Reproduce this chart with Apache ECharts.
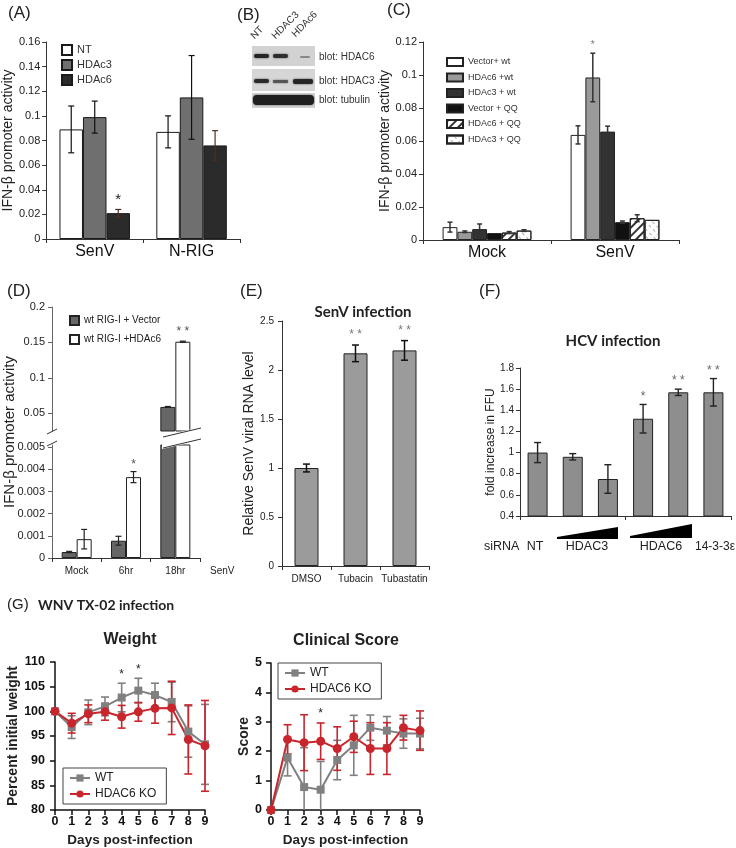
<!DOCTYPE html>
<html><head><meta charset="utf-8">
<script src="https://cdn.jsdelivr.net/npm/echarts@6/dist/echarts.min.js"></script>
<style>html,body{margin:0;padding:0;background:#fff}#c{width:736px;height:848px}</style>
</head><body><div id="c"></div><script>
// ---------------- DATA ----------------
// (A)
const aCats = ['SenV', 'N-RIG'];
const aNames = ['NT', 'HDAc3', 'HDAc6'];
const aVals = [[0.089, 0.087], [0.099, 0.115], [0.021, 0.076]];
const aErr  = [[0.019, 0.013], [0.013, 0.034], [0.003, 0.012]];
const aStars = [['', ''], ['', ''], ['*', '']];
const aTicks = [0, 0.16, 0.02];
// (C)
const cCats = ['Mock', 'SenV'];
const cNames = ['Vector+ wt', 'HDAc6 +wt', 'HDAc3 + wt', 'Vector + QQ', 'HDAc6 + QQ', 'HDAc3 + QQ'];
const cVals = [[0.0078, 0.0637], [0.0050, 0.0985], [0.0066, 0.0657], [0.0042, 0.0108], [0.0045, 0.0132], [0.0057, 0.0122]];
const cErr  = [[0.0030, 0.0055], [0.0005, 0.0147], [0.0031, 0.0033], [0, 0.0007], [0.0006, 0.0021], [0.0005, 0]];
const cStars = [['', ''], ['', '*'], ['', ''], ['', ''], ['', ''], ['', '']];
const cTicks = [0, 0.12, 0.02];
// (D)
const dCats = ['Mock', '6hr', '18hr'];
const dNames = ['wt RIG-I + Vector', 'wt RIG-I +HDAc6'];
const dVals = [[0.00027, 0.00078, 0.059], [0.00085, 0.00365, 0.151]];
const dErr  = [[0.00003, 0.0002, 0.0006], [0.00044, 0.00025, 0.0008]];
const dStars = [['', '', ''], ['', '*', '* *']];
const dUpperTicks = [0.05, 0.1, 0.15, 0.2];
const dLowerTicks = [0, 0.001, 0.002, 0.003, 0.004, 0.005];
const dBreakLow = 0.0051, dBreakHigh = 0.025, dMax = 0.2;
// (E)
const eCats = ['DMSO', 'Tubacin', 'Tubastatin'];
const eVals = [1.0, 2.17, 2.2];
const eErr  = [0.04, 0.085, 0.1];
const eStars = ['', '* *', '* *'];
const eTicks = [0, 2.5, 0.5];
// (F)
const fCats = ['NT', 'HDAC3 low', 'HDAC3 high', 'HDAC6 low', 'HDAC6 high', '14-3-3ε'];
const fVals = [1.0, 0.96, 0.75, 1.32, 1.57, 1.57];
const fErr  = [0.095, 0.03, 0.135, 0.135, 0.03, 0.13];
const fStars = ['', '', '', '*', '* *', '* *'];
const fTicks = [0.4, 1.8, 0.2];
const fGroupLabels = ['siRNA', 'NT', 'HDAC3', 'HDAC6', '14-3-3ε'];
// (G)
const days = [0, 1, 2, 3, 4, 5, 6, 7, 8, 9];
const gNames = ['WT', 'HDAC6 KO'];
const wtWeight    = [100, 96.8, 99.8, 101.0, 102.8, 104.2, 103.3, 101.9, 95.9, 93.3];
const wtWeightErr = [0, 2.3, 2.5, 1.9, 2.9, 2.5, 2.4, 4.0, 5.2, 8.1];
const koWeight    = [100, 97.6, 99.5, 99.9, 98.9, 99.9, 100.6, 100.7, 94.3, 93.0];
const koWeightErr = [0, 2.0, 1.8, 1.7, 2.3, 1.9, 3.0, 5.4, 7.0, 9.2];
const weightStars = ['', '', '', '', '*', '*', '', '', '', ''];
const wtScore    = [0, 1.78, 0.78, 0.69, 1.70, 2.20, 2.80, 2.70, 2.60, 2.60];
const wtScoreErr = [0, 0.62, 1.34, 0.96, 0.67, 1.02, 0.43, 0.48, 0.50, 0.52];
const koScore    = [0, 2.40, 2.29, 2.34, 2.09, 2.49, 2.09, 2.09, 2.80, 2.70];
const koScoreErr = [0, 0.50, 0.95, 0.62, 0.74, 0.53, 0.88, 0.88, 0.42, 0.67];
const scoreStars = ['', '', '', '*', '', '', '', '', '', ''];
const weightTicks = [80, 110, 5];
const scoreTicks = [0, 5, 1];

// ---------------- HELPERS ----------------
const FONT = 'Liberation Sans';
const TFONT = 'Lato';

function errSeries(o) {
  const stars = o.stars || [];
  return {
    type: 'custom', xAxisIndex: o.ax, yAxisIndex: o.ax, data: o.data, z: o.z || 10, silent: true,
    renderItem: function (params, api) {
      const cs = params.coordSys;
      const x = api.value(0), lo = api.value(1), hi = api.value(2);
      const p1 = api.coord([x, lo]), p2 = api.coord([x, hi]);
      const px = p1[0] + (o.offset || 0);
      const bottom = cs.y + cs.height;
      const yb = Math.min(p1[1], bottom), yt = Math.max(p2[1], cs.y);
      const st = { stroke: o.color, lineWidth: o.lw || 1.2 };
      const cw = (o.capW || 6) / 2;
      const ch = [];
      if (hi > lo) {
        ch.push({ type: 'line', shape: { x1: px, y1: yt, x2: px, y2: yb }, style: st });
        ch.push({ type: 'line', shape: { x1: px - cw, y1: yt, x2: px + cw, y2: yt }, style: st });
        if (p1[1] <= bottom) ch.push({ type: 'line', shape: { x1: px - cw, y1: yb, x2: px + cw, y2: yb }, style: st });
      }
      const s = stars[params.dataIndex];
      if (s) ch.push({ type: 'text', style: { text: s, x: px, y: yt - (o.starGap || 2), align: 'center', verticalAlign: 'bottom',
        textAlign: 'center', textVerticalAlign: 'bottom', fill: o.starColor || '#333', fontSize: o.starSize || 12, fontFamily: FONT } });
      return { type: 'group', children: ch };
    }
  };
}
function txt(x, y, text, opt) {
  opt = opt || {};
  return { type: 'text', x: x, y: y, rotation: opt.rot || 0, z: 50,
    style: { text: text, fontSize: opt.size || 12, fontWeight: opt.weight || 'normal', fontFamily: opt.family || FONT,
      fill: opt.fill || '#222', align: opt.align || 'left', verticalAlign: opt.va || 'middle',
      textAlign: opt.align || 'left', textVerticalAlign: opt.va || 'middle' } };
}
function valAxis(ax, t, extra) {
  return Object.assign({
    type: 'value', gridIndex: ax, min: t[0], max: t[1], interval: t[2],
    axisLine: { show: true, lineStyle: { color: '#333', width: 1 } },
    axisTick: { show: true, length: 4, lineStyle: { color: '#333' } },
    splitLine: { show: false },
    axisLabel: { fontSize: 11, color: '#222', fontFamily: FONT, margin: 6 },
    nameLocation: 'middle', nameTextStyle: { fontSize: 14, color: '#222', fontFamily: FONT }
  }, extra || {});
}
function catAxis(ax, cats, extra) {
  return Object.assign({
    type: 'category', gridIndex: ax, data: cats,
    axisLine: { show: true, lineStyle: { color: '#333', width: 1 } },
    axisTick: { show: true, length: 4, lineStyle: { color: '#333' } },
    axisLabel: { fontSize: 16, color: '#111', fontFamily: FONT, margin: 5, interval: 0 },
    splitLine: { show: false }
  }, extra || {});
}

// ---------------- GRIDS ----------------
const grid = [
  { left: 43, top: 42, width: 197, height: 197 },   // 0 A
  { left: 423, top: 42, width: 256, height: 198 },  // 1 C
  { left: 52, top: 307, width: 148, height: 124 },  // 2 D upper
  { left: 52, top: 445, width: 148, height: 113 },  // 3 D lower
  { left: 282, top: 321, width: 147, height: 245 }, // 4 E
  { left: 520, top: 368, width: 211, height: 148 }, // 5 F
  { left: 55, top: 662, width: 150, height: 150 },  // 6 Weight
  { left: 271, top: 663, width: 149, height: 149 }  // 7 Score
];

const xAxis = [
  catAxis(0, aCats),
  catAxis(1, cCats),
  catAxis(2, dCats, { axisLine: { show: false }, axisTick: { show: false }, axisLabel: { show: false } }),
  catAxis(3, dCats, { axisLabel: { fontSize: 10, color: '#222', fontFamily: FONT, margin: 8, interval: 0 } }),
  catAxis(4, eCats, { axisLabel: { fontSize: 10, color: '#222', fontFamily: FONT, margin: 8, interval: 0 } }),
  catAxis(5, fCats, { axisLabel: { show: false } }),
  { type: 'value', gridIndex: 6, min: 0, max: 9, interval: 1, splitLine: { show: false },
    axisLine: { lineStyle: { color: '#111', width: 1.5 } }, axisTick: { length: 5, lineStyle: { color: '#111', width: 1.5 } },
    axisLabel: { fontSize: 12.5, fontWeight: 'bold', color: '#111', fontFamily: FONT, margin: 5 },
    name: 'Days post-infection', nameLocation: 'middle', nameGap: 23,
    nameTextStyle: { fontSize: 13.5, fontWeight: 'bold', color: '#222', fontFamily: FONT } },
  { type: 'value', gridIndex: 7, min: 0, max: 9, interval: 1, splitLine: { show: false },
    axisLine: { lineStyle: { color: '#111', width: 1.5 } }, axisTick: { length: 5, lineStyle: { color: '#111', width: 1.5 } },
    axisLabel: { fontSize: 12.5, fontWeight: 'bold', color: '#111', fontFamily: FONT, margin: 5 },
    name: 'Days post-infection', nameLocation: 'middle', nameGap: 23,
    nameTextStyle: { fontSize: 13.5, fontWeight: 'bold', color: '#222', fontFamily: FONT } }
];

const gYAxisStyle = {
  axisLine: { show: true, lineStyle: { color: '#111', width: 1.5 } },
  axisTick: { show: true, length: 5, lineStyle: { color: '#111', width: 1.5 } },
  axisLabel: { fontSize: 12.5, fontWeight: 'bold', color: '#111', fontFamily: FONT, margin: 4 },
  nameTextStyle: { fontSize: 14, fontWeight: 'bold', color: '#222', fontFamily: FONT }
};

const yAxis = [
  valAxis(0, aTicks, { name: 'IFN-β promoter activity', nameGap: 28 }),
  valAxis(1, cTicks, { name: 'IFN-β promoter activity', nameGap: 24 }),
  { type: 'value', gridIndex: 2, min: dBreakHigh, max: dMax, splitLine: { show: false },
    axisLine: { show: true, lineStyle: { color: '#666' } },
    axisTick: { show: true, length: 4, customValues: dUpperTicks, lineStyle: { color: '#666' } },
    axisLabel: { fontSize: 11, color: '#222', fontFamily: FONT, margin: 7, customValues: dUpperTicks } },
  { type: 'value', gridIndex: 3, min: 0, max: dBreakLow, splitLine: { show: false },
    axisLine: { show: true, lineStyle: { color: '#666' } },
    axisTick: { show: true, length: 4, customValues: dLowerTicks, lineStyle: { color: '#666' } },
    axisLabel: { fontSize: 11, color: '#222', fontFamily: FONT, margin: 7, customValues: dLowerTicks } },
  valAxis(4, eTicks, { name: 'Relative SenV viral RNA level', nameGap: 26, axisLabel: { fontSize: 10, color: '#222', fontFamily: FONT, margin: 8 } }),
  valAxis(5, fTicks, { name: 'fold increase in FFU', nameGap: 19, nameTextStyle: { fontSize: 12, color: '#222', fontFamily: FONT },
    axisLabel: { fontSize: 10, color: '#222', fontFamily: FONT, margin: 6,
      formatter: v => (Math.round(v * 10) / 10).toString() } }),
  Object.assign({ type: 'value', gridIndex: 6, min: weightTicks[0], max: weightTicks[1], interval: weightTicks[2], offset: 6,
    splitLine: { show: false }, name: 'Percent initial weight', nameLocation: 'middle', nameGap: 24 }, gYAxisStyle),
  Object.assign({ type: 'value', gridIndex: 7, min: scoreTicks[0], max: scoreTicks[1], interval: scoreTicks[2], offset: 5,
    splitLine: { show: false }, name: 'Score', nameLocation: 'middle', nameGap: 15 }, gYAxisStyle)
];

// ---------------- SERIES ----------------
const series = [];
// A
const aColors = ['#ffffff', '#6f6f6f', '#2b2b2b'];
const aBW = 23.5;
aNames.forEach((n, i) => {
  series.push({ type: 'bar', name: n, xAxisIndex: 0, yAxisIndex: 0, data: aVals[i], barWidth: aBW, barGap: '0%',
    itemStyle: { color: aColors[i], borderColor: '#1a1a1a', borderWidth: 1 } });
});
aNames.forEach((n, i) => {
  series.push(errSeries({ ax: 0, data: aVals[i].map((v, k) => [k, v - aErr[i][k], v + aErr[i][k]]), stars: aStars[i],
    offset: (i - 1) * aBW, capW: 6, color: i === 2 ? '#4a3020' : '#111', lw: 1.2, starSize: 15, starColor: '#222', starGap: 0 }));
});
// C
const cColors = ['#ffffff', '#9a9a9a', '#333333', '#111111', '#ffffff', '#ffffff'];
const cDecals = [null, null, null, null,
  { symbol: 'rect', symbolSize: 1, dashArrayX: [1, 0], dashArrayY: [1.3, 4], rotation: -Math.PI / 4, color: '#333' },
  { symbol: 'rect', symbolSize: 1, dashArrayX: [3, 3], dashArrayY: [1, 4], rotation: Math.PI / 4, color: '#aaa' }];
const cBW = 14.8;
cNames.forEach((n, i) => {
  const st = { color: cColors[i], borderColor: '#222', borderWidth: 1 };
  if (cDecals[i]) st.decal = cDecals[i];
  series.push({ type: 'bar', name: n, xAxisIndex: 1, yAxisIndex: 1, data: cVals[i], barWidth: cBW, barGap: '0%', itemStyle: st });
});
cNames.forEach((n, i) => {
  series.push(errSeries({ ax: 1, data: cVals[i].map((v, k) => [k, v - cErr[i][k], v + cErr[i][k]]), stars: cStars[i],
    offset: (i - 2.5) * cBW, capW: 5, color: '#333', lw: 1.5, starSize: 10, starColor: '#777', starGap: 3 }));
});
// D
const dColors = ['#666666', '#ffffff'];
const dBW = 15;
dNames.forEach((n, i) => {
  series.push({ type: 'bar', name: n, xAxisIndex: 3, yAxisIndex: 3, data: dVals[i], barWidth: dBW, barGap: '0%',
    itemStyle: { color: dColors[i], borderColor: '#222', borderWidth: 1 } });
  series.push({ type: 'bar', name: n, xAxisIndex: 2, yAxisIndex: 2, data: dVals[i].map(v => v > dBreakHigh ? v : '-'),
    barWidth: dBW, barGap: '0%', itemStyle: { color: dColors[i], borderColor: '#222', borderWidth: 1 } });
});
dNames.forEach((n, i) => {
  const lowD = [], lowS = [], upD = [], upS = [];
  dVals[i].forEach((v, k) => {
    if (v < dBreakLow) { lowD.push([k, v - dErr[i][k], v + dErr[i][k]]); lowS.push(dStars[i][k]); }
    else { upD.push([k, v - dErr[i][k], v + dErr[i][k]]); upS.push(dStars[i][k]); }
  });
  const off = (i - 0.5) * dBW;
  series.push(errSeries({ ax: 3, data: lowD, stars: lowS, offset: off, capW: 6, color: '#222', lw: 1.2, starSize: 12, starColor: '#555', starGap: 1 }));
  series.push(errSeries({ ax: 2, data: upD, stars: upS, offset: off, capW: 6, color: '#222', lw: 1.2, starSize: 12, starColor: '#555', starGap: 3 }));
});
// E
series.push({ type: 'bar', name: 'SenV infection', xAxisIndex: 4, yAxisIndex: 4, data: eVals, barWidth: 24,
  itemStyle: { color: '#9b9b9b', borderColor: '#222', borderWidth: 1 } });
series.push(errSeries({ ax: 4, data: eVals.map((v, k) => [k, v - eErr[k], v + eErr[k]]), stars: eStars,
  capW: 7, color: '#111', lw: 1.5, starSize: 12, starColor: '#777', starGap: 4 }));
// F
series.push({ type: 'bar', name: 'HCV infection', xAxisIndex: 5, yAxisIndex: 5, data: fVals, barWidth: 20,
  itemStyle: { color: '#8e8e8e', borderColor: '#222', borderWidth: 1 } });
series.push(errSeries({ ax: 5, data: fVals.map((v, k) => [k, v - fErr[k], v + fErr[k]]), stars: fStars,
  capW: 7, color: '#222', lw: 1.4, starSize: 12, starColor: '#666', starGap: 2 }));
// G
const gColors = ['#808080', '#c8262c'];
function gLine(ax, name, vals, ci, sym, size) {
  return { type: 'line', name: name, xAxisIndex: ax, yAxisIndex: ax, data: days.map((d, k) => [d, vals[k]]),
    symbol: sym, symbolSize: size, z: 12, lineStyle: { color: gColors[ci], width: 2 }, itemStyle: { color: gColors[ci] } };
}
function gErr(ax, vals, errs, ci, stars) {
  return errSeries({ ax: ax, data: days.map((d, k) => [d, vals[k] - errs[k], vals[k] + errs[k]]), stars: stars || [],
    capW: 8, color: gColors[ci], lw: 1.6, starSize: 12, starColor: '#222', starGap: 3, z: 11 });
}
series.push(gErr(6, wtWeight, wtWeightErr, 0, weightStars));
series.push(gErr(6, koWeight, koWeightErr, 1));
series.push(gLine(6, gNames[0], wtWeight, 0, 'rect', 8));
series.push(gLine(6, gNames[1], koWeight, 1, 'circle', 9));
series.push(gErr(7, wtScore, wtScoreErr, 0));
series.push(gErr(7, koScore, koScoreErr, 1, scoreStars));
series.push(gLine(7, gNames[0], wtScore, 0, 'rect', 8));
series.push(gLine(7, gNames[1], koScore, 1, 'circle', 9));

// ---------------- LEGENDS ----------------
const legend = [
  { data: aNames, left: 56, top: 39, orient: 'vertical', icon: 'rect', itemWidth: 10, itemHeight: 10, itemGap: 3, selectedMode: false,
    textStyle: { fontSize: 11, color: '#333', fontFamily: FONT } },
  { data: cNames, left: 441, top: 52, orient: 'vertical', icon: 'rect', itemWidth: 16, itemHeight: 8, itemGap: 5.5, selectedMode: false,
    textStyle: { fontSize: 9, color: '#333', fontFamily: FONT } },
  { data: dNames, left: 64, top: 310, orient: 'vertical', icon: 'rect', itemWidth: 9, itemHeight: 9, itemGap: 8, selectedMode: false,
    textStyle: { fontSize: 10, color: '#222', fontFamily: FONT } },
  { data: gNames, left: 63, top: 768, orient: 'vertical', itemWidth: 20, itemHeight: 9, itemGap: 4, selectedMode: false,
    borderColor: '#444', borderWidth: 1, borderRadius: 0, padding: [4, 10, 4, 6],
    textStyle: { fontSize: 12, color: '#222', fontFamily: FONT } },
  { data: gNames, left: 278, top: 663, orient: 'vertical', itemWidth: 20, itemHeight: 9, itemGap: 4, selectedMode: false,
    borderColor: '#444', borderWidth: 1, borderRadius: 0, padding: [4, 10, 4, 6],
    textStyle: { fontSize: 12, color: '#222', fontFamily: FONT } }
];

// ---------------- GRAPHIC (panel labels, blot, wedges, break marks) ----------------
const graphic = [
  txt(8, 13, '(A)', { size: 17 }),
  txt(237, 15, '(B)', { size: 17 }),
  txt(387, 10, '(C)', { size: 17 }),
  txt(7, 291, '(D)', { size: 17 }),
  txt(240, 291, '(E)', { size: 17 }),
  txt(479, 291, '(F)', { size: 17 }),
  txt(7, 605, '(G)', { size: 15 }),
  txt(38, 605, 'WNV TX-02 infection', { size: 14, weight: 'bold', family: TFONT }),
  txt(363, 312, 'SenV infection', { size: 15, weight: 'bold', family: TFONT, align: 'center' }),
  txt(613, 341, 'HCV infection', { size: 15, weight: 'bold', family: TFONT, align: 'center' }),
  txt(130, 640, 'Weight', { size: 16, weight: 'bold', align: 'center' }),
  txt(346, 641, 'Clinical Score', { size: 16, weight: 'bold', align: 'center' }),
  txt(10, 432, 'IFN-β promoter activity', { size: 15, align: 'center', rot: Math.PI / 2 }),
  txt(210, 571, 'SenV', { size: 10 }),
  // F group labels
  txt(484, 547, fGroupLabels[0], { size: 12.5 }),
  txt(535, 547, fGroupLabels[1], { size: 12.5, align: 'center' }),
  txt(587, 547, fGroupLabels[2], { size: 12.5, align: 'center' }),
  txt(661, 547, fGroupLabels[3], { size: 12.5, align: 'center' }),
  txt(735, 547, fGroupLabels[4], { size: 12, align: 'right' }),
  { type: 'polygon', shape: { points: [[557, 537], [618, 527], [618, 539], [557, 539]] }, style: { fill: '#000' } },
  { type: 'polygon', shape: { points: [[630, 536], [692, 524], [692, 538], [630, 538]] }, style: { fill: '#000' } },
  // D break marks
  { type: 'polygon', z: 40, shape: { points: [[162, 436], [202, 427], [202, 440], [162, 449]] }, style: { fill: '#fff' } },
  { type: 'line', z: 41, shape: { x1: 163, y1: 437, x2: 201, y2: 428 }, style: { stroke: '#333', lineWidth: 1 } },
  { type: 'line', z: 41, shape: { x1: 163, y1: 448, x2: 201, y2: 439 }, style: { stroke: '#333', lineWidth: 1 } },
  { type: 'line', z: 41, shape: { x1: 47, y1: 434, x2: 57, y2: 429 }, style: { stroke: '#333', lineWidth: 1 } },
  { type: 'line', z: 41, shape: { x1: 47, y1: 446, x2: 57, y2: 441 }, style: { stroke: '#333', lineWidth: 1 } },
  // (B) western blot
  { type: 'rect', shape: { x: 252, y: 46, width: 63, height: 20 }, style: { fill: '#d2d2d2' } },
  { type: 'rect', shape: { x: 252, y: 69, width: 63, height: 22 }, style: { fill: '#d6d6d6' } },
  { type: 'rect', shape: { x: 252, y: 93, width: 63, height: 15 }, style: { fill: '#d4d4d4' } },
  { type: 'rect', shape: { x: 254, y: 54, width: 15, height: 4, r: 2 }, style: { fill: '#262626', shadowBlur: 2, shadowColor: '#444' } },
  { type: 'rect', shape: { x: 273, y: 54, width: 15, height: 4, r: 2 }, style: { fill: '#2e2e2e', shadowBlur: 2, shadowColor: '#444' } },
  { type: 'rect', shape: { x: 300, y: 56, width: 10, height: 2, r: 1 }, style: { fill: '#888' } },
  { type: 'rect', shape: { x: 254, y: 79, width: 15, height: 4, r: 2 }, style: { fill: '#2a2a2a', shadowBlur: 2, shadowColor: '#444' } },
  { type: 'rect', shape: { x: 273, y: 80, width: 15, height: 3, r: 1 }, style: { fill: '#555', shadowBlur: 2, shadowColor: '#666' } },
  { type: 'rect', shape: { x: 293, y: 79, width: 20, height: 5, r: 2 }, style: { fill: '#262626', shadowBlur: 2, shadowColor: '#444' } },
  { type: 'rect', shape: { x: 253, y: 95, width: 61, height: 10, r: 4 }, style: { fill: '#202020', shadowBlur: 2, shadowColor: '#444' } },
  txt(319, 57, 'blot: HDAC6', { size: 10, fill: '#333' }),
  txt(319, 81, 'blot: HDAC3', { size: 10, fill: '#333' }),
  txt(319, 100, 'blot: tubulin', { size: 10, fill: '#333' }),
  txt(256, 41, 'NT', { size: 10, fill: '#333', rot: Math.PI / 4, va: 'bottom' }),
  txt(277, 41, 'HDAC3', { size: 10, fill: '#333', rot: Math.PI / 4, va: 'bottom' }),
  txt(297, 39, 'HDAc6', { size: 10, fill: '#333', rot: Math.PI / 4, va: 'bottom' })
];

const chart = echarts.init(document.getElementById('c'), null, { renderer: 'canvas' });
chart.setOption({
  animation: false, backgroundColor: '#fff',
  textStyle: { fontFamily: FONT },
  grid: grid, xAxis: xAxis, yAxis: yAxis, series: series, legend: legend, graphic: graphic
});
</script></body></html>
